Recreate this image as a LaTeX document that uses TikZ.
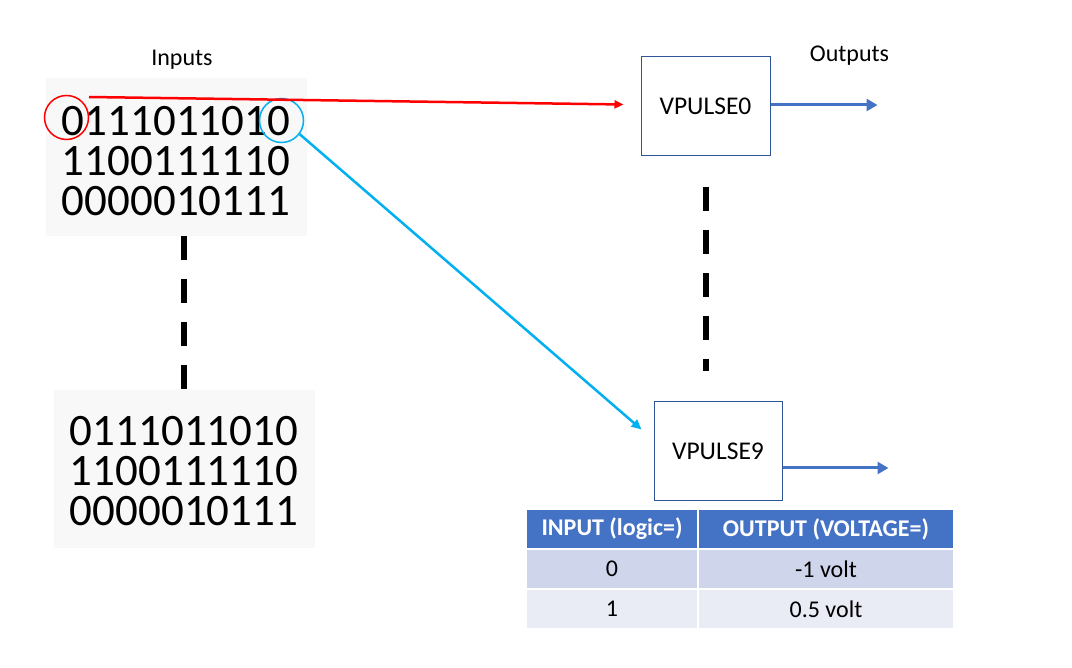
\documentclass[tikz,border=0pt]{standalone}
\usepackage{fontspec}
\setmainfont{Carlito}
\usepackage{tikz}
\usetikzlibrary{arrows.meta, positioning, calc}
\usepackage{xcolor}
\definecolor{boxblue}{RGB}{47, 85, 151}
\definecolor{outblue}{RGB}{68, 114, 196}
\definecolor{bitcyan}{RGB}{0, 176, 240}
\definecolor{rowdark}{RGB}{207, 213, 234}
\definecolor{rowlight}{RGB}{233, 235, 245}
\definecolor{bitgray}{RGB}{248, 248, 248}

\begin{document}
\begin{tikzpicture}[
			x=1pt, y=-1pt,
			>=Triangle,
			font=\fontsize{24}{29}\selectfont,
			% Node styles
			bitbox/.style={
				fill=bitgray, inner sep=0pt,
				minimum width=261pt, minimum height=158pt
			},
			bits/.style={
				inner sep=0pt, align=left,
				font=\fontsize{45}{40}\selectfont
			},
			pulse/.style={
				draw=boxblue, rectangle, line width=1pt,
				minimum width=129pt, minimum height=99pt,
				align=center, font=\fontsize{25.5}{30}\selectfont
			},
			marker/.style={circle, line width=1.5pt, minimum size=44pt, inner sep=0pt},
			cell/.style={
				draw=white, line width=2pt, inner sep=0pt, outer sep=0pt,
				minimum height=40pt, align=center
			},
			head/.style={cell, fill=outblue, text=white, font=\fontsize{24}{29}\selectfont\bfseries},
			link/.style={line width=2.5pt},
			outarrow/.style={-{Triangle[length=11pt,width=12pt]}, color=outblue, line width=3pt},
			gap/.style={line width=6pt, dash pattern=on 24pt off 19pt}
		]
		\useasboundingbox (0,0) rectangle (1072,668);

		% Input bit blocks
		\node (inlabel) at (182,60) {Inputs};
		\node[bitbox] (intop) at (176.5,157) {};
		\node[bits] (intoptext) at (176,161)
			{0111011010\\1100111110\\0000010111};
		\node[bitbox] (inbottom) at (184.5,469) {};
		\node[bits] (inbottomtext) at (184,471)
			{0111011010\\1100111110\\0000010111};
		\node[marker, draw=red] (bitfirst) at (66.5,117.5) {};
		\node[marker, draw=bitcyan] (bitlast) at (281.5,120.5) {};

		% Pulse sources
		\node[pulse] (vp0) at (705.5,106.5) {VPULSE0};
		\node[pulse, minimum width=128pt, minimum height=98pt] (vp9) at (718,451) {VPULSE9};
		\node (outlabel) at (849.5,56) {Outputs};

		% Mapping table
		\node[head, minimum width=172pt] (hin) at (612,529) {INPUT (logic=)};
		\node[head, minimum width=256pt, right=0pt of hin] (hout) {OUTPUT (VOLTAGE=)};
		\node[cell, fill=rowdark, minimum width=172pt, below=0pt of hin] (zin) {0};
		\node[cell, fill=rowdark, minimum width=256pt, below=0pt of hout] (zout) {-1 volt};
		\node[cell, fill=rowlight, minimum width=172pt, below=0pt of zin] (oin) {1};
		\node[cell, fill=rowlight, minimum width=256pt, below=0pt of zout] (oout) {0.5 volt};

		% Arrows
		\coordinate (redstart) at (89,97);
		\coordinate (redend) at ($(vp0.west)+(-17,-2)$);
		\draw[link, red, -{Triangle[length=9pt,width=8pt]}] (redstart) -- (redend);
		\coordinate (cyanend) at ($(vp9.north west)+(-12,28)$);
		\draw[link, bitcyan, -{Triangle[length=10pt,width=9pt]}] (bitlast.-37) -- (cyanend);
		\draw[outarrow] ($(vp0.east)+(0,-1.5)$) -- ++(107,0);
		\draw[outarrow] ($(vp9.east)+(0,17)$) -- ++(106,0);

		% Dashed gaps
		\coordinate (gapleft) at (184,0);
		\draw[gap] (gapleft |- intop.south) -- (gapleft |- inbottom.north);
		\coordinate (gaptop) at ($(vp0.south)+(0.5,31)$);
		\coordinate (gapend) at ($(vp9.north)+(-12,-30)$);
		\draw[gap] (gaptop) -- (gaptop |- gapend);

		\end{tikzpicture}
\end{document}
